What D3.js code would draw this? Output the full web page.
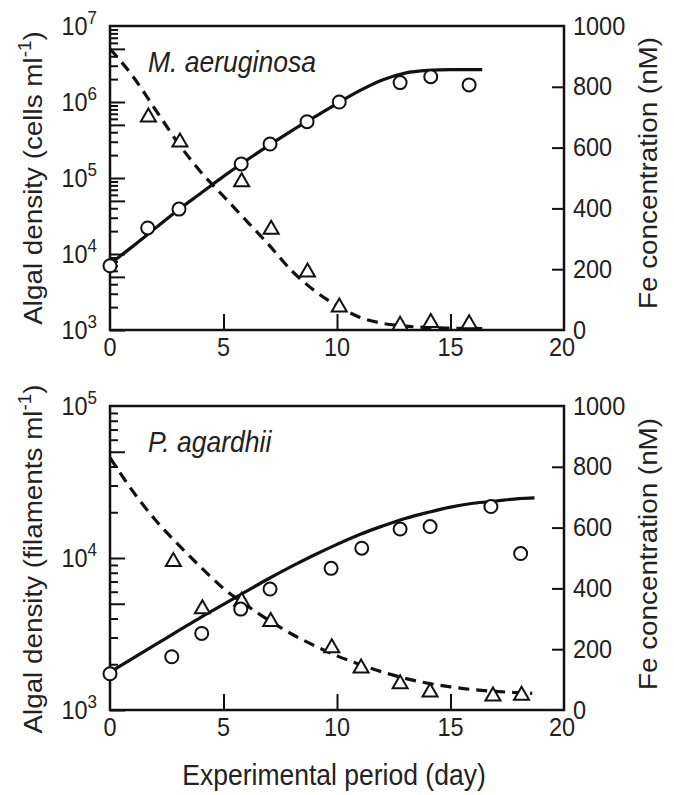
<!DOCTYPE html>
<html>
<head>
<meta charset="utf-8">
<script src="https://cdn.jsdelivr.net/npm/d3@7"></script>
<style>
  html, body { margin: 0; padding: 0; background: #fff; }
  svg { display: block; font-family: "Liberation Sans", Arial, Helvetica, sans-serif; }
</style>
</head>
<body>
<svg id="chart" width="674" height="795"></svg>
<script>
// ---------- DATA ----------
const xTickLabels = [0, 5, 10, 15, 20];
const feTickLabels = [0, 200, 400, 600, 800, 1000];

// Panel A: M. aeruginosa
const dayA = [0, 1.66, 3.04, 5.78, 7.05, 8.68, 10.1, 12.78, 14.13, 15.82];
const densA = [7000, 22000, 39000, 153000, 280000, 550000, 1000000, 1800000, 2150000, 1680000];
const feDayA = [1.69, 3.08, 5.8, 7.1, 8.7, 10.1, 12.78, 14.13, 15.82];
const feA = [707, 625, 494, 338, 197, 82, 22, 31, 27];
const fitDayA = [0, 1, 2, 3, 4, 5, 6, 7, 8, 9, 10, 11, 12, 13, 14, 15, 16.4];
const fitDensA = [7400, 12600, 21900, 38000, 63000, 105000, 170000, 269000, 417000, 631000, 955000, 1410000, 1950000, 2400000, 2600000, 2660000, 2660000];
const fitFeA = [925, 835, 725, 615, 520, 440, 360, 280, 195, 130, 80, 42, 22, 13, 8, 6, 5];

// Panel B: P. agardhii
const dayB = [0, 2.72, 4.04, 5.76, 7.05, 9.74, 11.09, 12.78, 14.10, 16.78, 18.09];
const densB = [1730, 2240, 3190, 4610, 6250, 8550, 11600, 15500, 16100, 21800, 10700];
const feDayB = [2.79, 4.07, 5.80, 7.08, 9.77, 11.06, 12.78, 14.10, 16.87, 18.13];
const feB = [495, 340, 364, 298, 211, 145, 93, 66, 53, 55];
const fitDayB = [0, 1, 2, 3, 4, 5, 6, 7, 8, 9, 10, 11, 12, 13, 14, 15, 16, 17, 18, 18.7];
const fitDensB = [1778, 2188, 2692, 3311, 4074, 4955, 6026, 7328, 8810, 10470, 12300, 14290, 16220, 18200, 19950, 21630, 22910, 23710, 24550, 24830];
const fitFeDayB = [0, 1, 2, 3, 4, 5, 6, 7, 8, 9, 10, 11, 12, 13, 14, 15, 16, 17, 18, 18.6];
const fitFeB = [830, 720, 625, 545, 470, 400, 345, 295, 250, 212, 178, 150, 125, 104, 88, 76, 67, 61, 57, 55];

// ---------- LAYOUT ----------
const svg = d3.select("#chart");
const X0 = 110, X1 = 564;
const VS = 1.08; // slight vertical stretch of lettering, as in the reference

const panels = [
  { top: 26, bottom: 330, expMin: 3, expMax: 7, species: "M. aeruginosa",
    unit: "cells", leftCenter: 178, rightCenter: 173,
    day: dayA, dens: densA, feDay: feDayA, fe: feA,
    fitDay: fitDayA, fitDens: fitDensA, fitFeDay: fitDayA, fitFe: fitFeA },
  { top: 406, bottom: 710, expMin: 3, expMax: 5, species: "P. agardhii",
    unit: "filaments", leftCenter: 559, rightCenter: 554,
    day: dayB, dens: densB, feDay: feDayB, fe: feB,
    fitDay: fitDayB, fitDens: fitDensB, fitFeDay: fitFeDayB, fitFe: fitFeB }
];

const x = d3.scaleLinear().domain([0, 20]).range([X0, X1]);

function triPath(w, h) {
  return `M0,${-h/2}L${w/2},${h/2}L${-w/2},${h/2}Z`;
}
function hText(g, px, py, size) {
  return g.append("text")
    .attr("transform", `translate(${px},${py}) scale(1,${VS})`)
    .attr("font-size", size).attr("fill", "#222");
}

panels.forEach(p => {
  const g = svg.append("g");
  const y = d3.scaleLog().domain([Math.pow(10, p.expMin), Math.pow(10, p.expMax)]).range([p.bottom, p.top]);
  const fe = d3.scaleLinear().domain([0, 1000]).range([p.bottom, p.top]);

  const longTicks = [], shortTicks = [];
  for (let e = p.expMin; e < p.expMax; e++) {
    for (let m = 1; m <= 9; m++) {
      const v = m * Math.pow(10, e);
      if (m === 1 || m === 5) longTicks.push(v); else shortTicks.push(v);
    }
  }

  const axStyle = sel => {
    sel.select(".domain").remove();
    sel.selectAll("line").attr("stroke", "#111").attr("stroke-width", 2);
  };

  g.append("g").attr("transform", `translate(${X0},0)`)
    .call(d3.axisLeft(y).tickValues(longTicks).tickSize(-15).tickFormat(""))
    .call(axStyle);
  g.append("g").attr("transform", `translate(${X0},0)`)
    .call(d3.axisLeft(y).tickValues(shortTicks).tickSize(-8).tickFormat(""))
    .call(axStyle);
  g.append("g").attr("transform", `translate(0,${p.bottom})`)
    .call(d3.axisBottom(x).tickValues([5, 10, 15]).tickSize(-16).tickFormat(""))
    .call(axStyle);
  g.append("g").attr("transform", `translate(${X1},0)`)
    .call(d3.axisRight(fe).tickValues([200, 400, 600, 800]).tickSize(-12).tickFormat(""))
    .call(axStyle);

  g.append("rect")
    .attr("x", X0).attr("y", p.top)
    .attr("width", X1 - X0).attr("height", p.bottom - p.top)
    .attr("fill", "none").attr("stroke", "#111").attr("stroke-width", 2.5);

  const line = (xs, ys, yScale) => d3.line().curve(d3.curveMonotoneX)
    .x(d => x(d[0])).y(d => yScale(d[1]))(d3.zip(xs, ys));

  g.append("path").attr("d", line(p.fitFeDay, p.fitFe, fe))
    .attr("fill", "none").attr("stroke", "#111").attr("stroke-width", 3.2)
    .attr("stroke-dasharray", "11,7");
  g.append("path").attr("d", line(p.fitDay, p.fitDens, y))
    .attr("fill", "none").attr("stroke", "#111").attr("stroke-width", 3.2);

  g.selectAll(".tri").data(d3.zip(p.feDay, p.fe)).join("path")
    .attr("transform", d => `translate(${x(d[0])},${fe(d[1])})`)
    .attr("d", triPath(15, 13))
    .attr("fill", "#fff").attr("stroke", "#111").attr("stroke-width", 2);
  g.selectAll(".circ").data(d3.zip(p.day, p.dens)).join("circle")
    .attr("cx", d => x(d[0])).attr("cy", d => y(d[1])).attr("r", 6.5)
    .attr("fill", "#fff").attr("stroke", "#111").attr("stroke-width", 2);

  // x tick labels
  xTickLabels.forEach(v => {
    hText(g, v === 20 ? x(v) - 2 : x(v), p.bottom + 26, 23.5)
      .attr("text-anchor", "middle").text(v);
  });

  // left tick labels (10^n)
  for (let e = p.expMin; e <= p.expMax; e++) {
    const t = hText(g, 97, y(Math.pow(10, e)) + 9, 23.5).attr("text-anchor", "end");
    t.append("tspan").text("10");
    t.append("tspan").attr("font-size", 17).attr("dy", -10).text(e);
  }

  // right tick labels
  feTickLabels.forEach(v => {
    hText(g, X1 + 9, fe(v) + 8.5, 23.5).attr("text-anchor", "start").text(v);
  });

  // species label
  hText(g, 148, p.top + 46, 26.5).attr("font-style", "italic").text(p.species);

  // left title
  const lt = g.append("text")
    .attr("transform", `translate(42,${p.leftCenter}) rotate(-90) scale(${VS - 0.03},1)`)
    .attr("text-anchor", "middle").attr("font-size", 26.5).attr("fill", "#222");
  lt.append("tspan").text(`Algal density (${p.unit} ml`);
  lt.append("tspan").attr("font-size", 18).attr("dy", -11).text("-1");
  lt.append("tspan").attr("dy", 11).text(")");

  // right title
  g.append("text")
    .attr("transform", `translate(657,${p.rightCenter}) rotate(-90) scale(${VS - 0.03},1)`)
    .attr("text-anchor", "middle").attr("font-size", 26.5).attr("fill", "#222")
    .text("Fe concentration (nM)");
});

// x-axis title
hText(svg, 334, 785, 26.5).attr("text-anchor", "middle").text("Experimental period (day)");
</script>
</body>
</html>
